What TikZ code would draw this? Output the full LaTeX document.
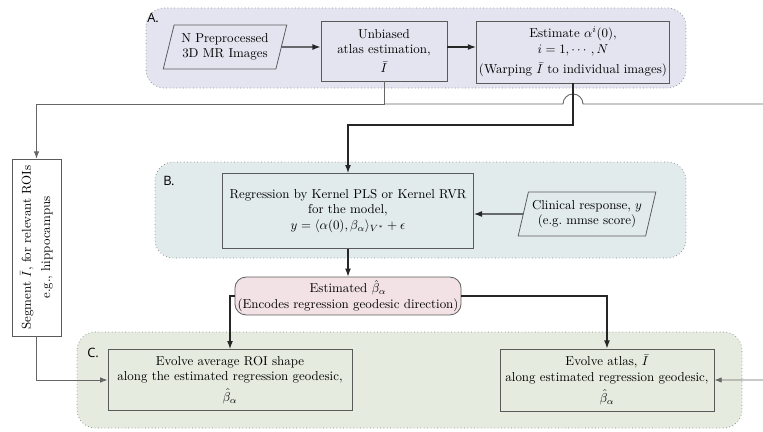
\documentclass[tikz,border=0pt]{standalone}
\usepackage{fontspec}
\usepackage{amsmath}
\usetikzlibrary{shapes.geometric,arrows.meta}
\newfontfamily\grpfont{Open Sans}
\definecolor{grpAfill}{HTML}{E4E4F0}
\definecolor{grpBfill}{HTML}{E2EBEC}
\definecolor{grpCfill}{HTML}{E5EBDF}
\definecolor{estfill}{HTML}{F2E2E6}
\definecolor{boxline}{HTML}{5A5A5A}

\tikzset{
  grp/.style={draw=black!45, dotted, line width=0.6pt, rounded corners=0.5cm},
  grplabel/.style={font=\grpfont, anchor=west, inner sep=0pt},
  box/.style={draw=boxline, line width=0.6pt, align=center, inner sep=2pt},
  databox/.style={box, trapezium, trapezium left angle=73, trapezium right angle=107,
    trapezium stretches=true},
  arr/.style={draw=black!85, line width=0.9pt, -{Latex[length=2.2mm,width=1.6mm]}},
  bus/.style={draw=black!60, line width=0.7pt, -{Latex[length=2mm,width=1.5mm]}}
}

\begin{document}
\begin{tikzpicture}[x=0.0272cm, y=-0.0272cm]
\useasboundingbox (0,0) rectangle (763,431);
\clip (0,0) rectangle (763,431);

\draw[grp, fill=grpAfill] (146,8) rectangle (686,88);
\draw[grp, fill=grpBfill] (155,162) rectangle (686,258);
\draw[grp, fill=grpCfill] (77,332) rectangle (742,428);
\node[grplabel] (labA) at (147,18) {A.};
\node[grplabel] (labB) at (163,181) {B.};
\node[grplabel] (labC) at (87,353) {C.};

\node[databox, minimum width=3.37cm, minimum height=1.2cm] (pre) at (225,47)
  {N Preprocessed\\3D MR Images};
\node[box, minimum width=3.43cm, minimum height=1.63cm] (atlas) at (384,51)
  {Unbiased\\atlas estimation,\\[3pt]$\bar{I}$};
\node[box, minimum width=5.17cm, minimum height=1.69cm] (est) at (573,52)
  {Estimate $\alpha^i(0)$,\\$i=1,\cdots,N$\\[4pt](Warping $\bar{I}$ to individual images)};
\node[box, rotate=90, minimum width=4.81cm, minimum height=1.33cm] (seg) at (36.5,247.5)
  {Segment $\bar{I}$, for relevant ROIs\\[3pt]e.g., hippocampus};
\node[box, minimum width=6.83cm, minimum height=2.04cm] (reg) at (348,211)
  {Regression by Kernel PLS or Kernel RVR\\for the model,\\$y=\langle\alpha(0),\beta_\alpha\rangle_{V^*}+\epsilon$};
\node[databox, minimum width=3.75cm, minimum height=1.2cm] (clin) at (587,214)
  {Clinical response, $y$\\(e.g.\ mmse score)};
\node[box, fill=estfill, rounded corners=0.3cm, minimum width=6.15cm, minimum height=1.03cm] (beta) at (348,296)
  {Estimated $\hat{\beta}_\alpha$\\(Encodes regression geodesic direction)};
\node[box, minimum width=6.64cm, minimum height=1.66cm] (roi) at (230,380)
  {Evolve average ROI shape\\along the estimated regression geodesic,\\[4pt]$\hat{\beta}_\alpha$};
\node[box, minimum width=5.82cm, minimum height=1.69cm] (evatl) at (607,380)
  {Evolve atlas, $\bar{I}$\\along estimated regression geodesic,\\[4pt]$\hat{\beta}_\alpha$};

\draw[arr] (pre) -- (pre -| atlas.west);
\draw[arr] (atlas.east |- pre) -- (est.west |- pre);

\coordinate (busJ) at (atlas.south |- 0,104);
\coordinate (hopC) at (est.south |- busJ);
\draw[bus] (atlas.south) -- (busJ) -| (seg);
\draw[bus] (busJ) -- ([xshift=-0.272cm]hopC) arc[start angle=180, end angle=0, radius=0.272cm]
  -- (790,104) |- (evatl);
\draw[arr] (est.south) -- (est.south |- 0,125) -| (reg);
\draw[arr] (clin) -- (clin -| reg.east);
\draw[arr] (reg) -- (beta);
\draw[arr] (beta) -| (roi);
\draw[arr] (beta) -| (evatl);
\draw[bus] (seg) |- (roi);
\end{tikzpicture}
\end{document}
